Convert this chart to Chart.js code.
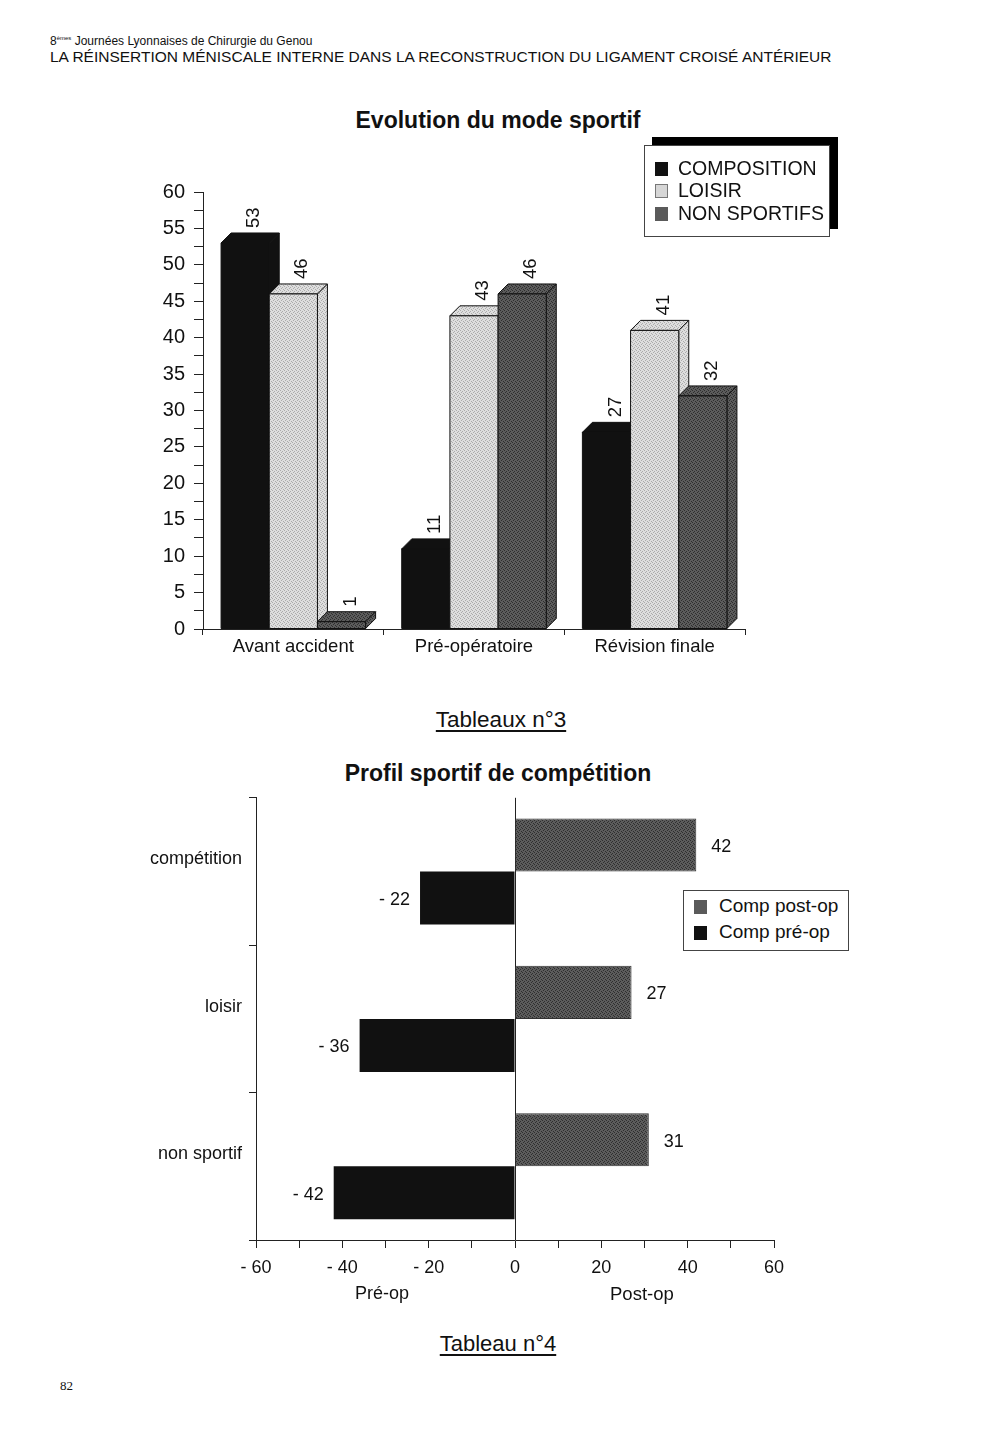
<!DOCTYPE html>
<html>
<head>
<meta charset="utf-8">
<script src="https://cdn.jsdelivr.net/npm/chart.js@4.4.0/dist/chart.umd.min.js"></script>
<style>
  body { margin: 0; background: #fff; font-family: "Liberation Sans", Arial, sans-serif; color: #111; }
  #page { position: relative; width: 1000px; height: 1431px; overflow: hidden; }
  .abs { position: absolute; white-space: nowrap; }
  canvas { position: absolute; }
  .title { font-weight: bold; font-size: 23px; }
  .legend { position: absolute; background: #fff; border: 1px solid #444; }
  .sw { position: absolute; width: 13px; height: 14px; }
  .cap { text-decoration: underline; text-underline-offset: 3px; }
</style>
</head>
<body>
<div id="page">
  <div class="abs" style="left:50px;top:34px;font-size:12px;">8<sup style="font-size:6px">èmes</sup> Journées Lyonnaises de Chirurgie du Genou</div>
  <div class="abs" style="left:50px;top:48px;font-size:15.5px;">LA RÉINSERTION MÉNISCALE INTERNE DANS LA RECONSTRUCTION DU LIGAMENT CROISÉ ANTÉRIEUR</div>

  <div class="abs title" style="left:0;width:996px;text-align:center;top:107px;">Evolution du mode sportif</div>
  <canvas id="chartSport" width="640" height="500" style="left:140px;top:170px;"></canvas>
  <div class="legend" style="left:644px;top:145px;width:184px;height:90px;box-shadow:8px -8px 0 #000;font-size:19.5px;">
    <span class="sw" style="left:10px;top:16px;background:#111;"></span>
    <span class="abs" style="left:33px;top:11px;">COMPOSITION</span>
    <span class="sw" style="left:10px;top:38px;background:#d6d6d6;border:1px solid #777;width:11px;height:12px;"></span>
    <span class="abs" style="left:33px;top:33px;">LOISIR</span>
    <span class="sw" style="left:10px;top:61px;background:#5a5a5a;"></span>
    <span class="abs" style="left:33px;top:56px;">NON SPORTIFS</span>
  </div>
  <div class="abs cap" style="left:0;width:1002px;text-align:center;top:707px;font-size:22.5px;">Tableaux n°3</div>

  <div class="abs title" style="left:0;width:996px;text-align:center;top:760px;">Profil sportif de compétition</div>
  <canvas id="chartComp" width="670" height="507" style="left:130px;top:780px;"></canvas>
  <div class="legend" style="left:683px;top:890px;width:164px;height:59px;font-size:19px;">
    <span class="sw" style="left:10px;top:9px;background:#5a5a5a;"></span>
    <span class="abs" style="left:35px;top:4px;">Comp post-op</span>
    <span class="sw" style="left:10px;top:35px;background:#111;"></span>
    <span class="abs" style="left:35px;top:30px;">Comp pré-op</span>
  </div>
  <div class="abs" style="left:355px;top:1283px;font-size:18px;">Pré-op</div>
  <div class="abs" style="left:610px;top:1283px;font-size:18.5px;">Post-op</div>
  <div class="abs cap" style="left:0;width:996px;text-align:center;top:1331px;font-size:22px;">Tableau n°4</div>

  <div class="abs" style="left:60px;top:1378px;font-size:13px;font-family:'Liberation Serif',serif;">82</div>
</div>

<script>
// --- data: Tableau n°3 ---
const phases = ['Avant accident', 'Pré-opératoire', 'Révision finale'];
const composition = [53, 11, 27];
const loisir = [46, 43, 41];
const nonSportifs = [1, 46, 32];

// --- data: Tableau n°4 ---
const profils = ['compétition', 'loisir', 'non sportif'];
const compPostOp = [42, 27, 31];
const compPreOp = [-22, -36, -42];

const FONT = '"Liberation Sans", Arial, sans-serif';

function stipple(base, dot) {
  const c = document.createElement('canvas');
  c.width = 4; c.height = 4;
  const g = c.getContext('2d');
  g.fillStyle = base; g.fillRect(0, 0, 4, 4);
  g.fillStyle = dot;
  g.fillRect(0, 0, 1, 1); g.fillRect(2, 1, 1, 1); g.fillRect(1, 2, 1, 1); g.fillRect(3, 3, 1, 1);
  return c;
}
const lightPat = document.createElement('canvas').getContext('2d').createPattern(stipple('#dedede', '#ababab'), 'repeat');
const darkPat = document.createElement('canvas').getContext('2d').createPattern(stipple('#5c5c5c', '#2e2e2e'), 'repeat');

// 3D bars for the first chart: fronts come from the bar elements, depth faces added
const DX = 10, DY = 10;
const bars3d = {
  id: 'bars3d',
  afterDatasetsDraw(chart) {
    const ctx = chart.ctx;
    const faces = ['#111', lightPat, darkPat];
    function poly(pts, fill) {
      ctx.beginPath();
      ctx.moveTo(pts[0][0], pts[0][1]);
      pts.slice(1).forEach(p => ctx.lineTo(p[0], p[1]));
      ctx.closePath();
      ctx.fillStyle = fill; ctx.fill();
      ctx.strokeStyle = '#111'; ctx.lineWidth = 1; ctx.stroke();
    }
    ctx.save();
    chart.data.labels.forEach((lab, i) => {
      chart.data.datasets.forEach((ds, d) => {
        const el = chart.getDatasetMeta(d).data[i];
        const l = el.x - el.width / 2, r = el.x + el.width / 2, t = el.y, b = el.base;
        poly([[r, b], [r + DX, b - DY], [r + DX, t - DY], [r, t]], faces[d]);
        poly([[l, t], [l + DX, t - DY], [r + DX, t - DY], [r, t]], faces[d]);
        poly([[l, t], [r, t], [r, b], [l, b]], faces[d]);
      });
    });
    // values, written upwards above each bar
    ctx.fillStyle = '#111';
    ctx.font = '18.5px ' + FONT;
    ctx.textAlign = 'left';
    ctx.textBaseline = 'middle';
    chart.data.datasets.forEach((ds, d) => {
      chart.getDatasetMeta(d).data.forEach((el, i) => {
        ctx.save();
        ctx.translate(el.x + DX / 2 + 4, el.y - DY - 5);
        ctx.rotate(-Math.PI / 2);
        ctx.fillText(String(ds.data[i]), 0, 0);
        ctx.restore();
      });
    });
    ctx.restore();
  }
};

new Chart(document.getElementById('chartSport'), {
  type: 'bar',
  data: {
    labels: phases,
    datasets: [
      { label: 'COMPOSITION', data: composition, backgroundColor: 'transparent' },
      { label: 'LOISIR', data: loisir, backgroundColor: 'transparent' },
      { label: 'NON SPORTIFS', data: nonSportifs, backgroundColor: 'transparent' }
    ]
  },
  options: {
    responsive: false,
    animation: false,
    devicePixelRatio: 1,
    layout: { padding: { top: 22, right: 35, bottom: 0, left: 0 } },
    datasets: { bar: { categoryPercentage: 0.8, barPercentage: 1, borderWidth: 0 } },
    plugins: { legend: { display: false }, tooltip: { enabled: false } },
    scales: {
      x: {
        afterFit: s => { s.height = 41; },
        border: { color: '#222', width: 1 },
        grid: { drawOnChartArea: false, tickLength: 6, color: '#222' },
        ticks: { color: '#111', font: { family: FONT, size: 18.5 }, padding: 1, maxRotation: 0 }
      },
      y: {
        min: 0, max: 60,
        afterFit: s => { s.width = 63; },
        border: { color: '#222', width: 1 },
        grid: { drawOnChartArea: false, tickLength: 9, color: '#222' },
        ticks: {
          stepSize: 2.5, autoSkip: false, color: '#111', padding: 9,
          font: { family: FONT, size: 20 },
          callback: v => (v % 5 === 0 ? String(v) : '')
        }
      }
    }
  },
  plugins: [bars3d]
});

// value labels for the horizontal chart
const hLabels = {
  id: 'hLabels',
  afterDatasetsDraw(chart) {
    const ctx = chart.ctx;
    ctx.save();
    ctx.fillStyle = '#111';
    ctx.font = '18px ' + FONT;
    ctx.textBaseline = 'middle';
    chart.data.datasets.forEach((ds, d) => {
      chart.getDatasetMeta(d).data.forEach((el, i) => {
        const v = ds.data[i];
        if (v >= 0) {
          ctx.textAlign = 'left';
          ctx.fillText(String(v), el.x + 15, el.y + 2);
        } else {
          ctx.textAlign = 'right';
          ctx.fillText('- ' + Math.abs(v), el.x - 10, el.y + 2);
        }
      });
    });
    ctx.restore();
  }
};

new Chart(document.getElementById('chartComp'), {
  type: 'bar',
  data: {
    labels: profils,
    datasets: [
      { label: 'Comp post-op', data: compPostOp, backgroundColor: darkPat, borderColor: '#333', borderWidth: 1 },
      { label: 'Comp pré-op', data: compPreOp, backgroundColor: '#111', borderWidth: 0 }
    ]
  },
  options: {
    indexAxis: 'y',
    responsive: false,
    animation: false,
    devicePixelRatio: 1,
    layout: { padding: { top: 0, right: 26, bottom: 0, left: 0 } },
    datasets: { bar: { categoryPercentage: 0.72, barPercentage: 1 } },
    plugins: { legend: { display: false }, tooltip: { enabled: false } },
    scales: {
      x: {
        min: -60, max: 60,
        afterFit: s => { s.height = 47; },
        border: { color: '#222', width: 1 },
        grid: {
          drawOnChartArea: true, tickLength: 8, tickColor: '#222',
          color: c => (c.tick && c.tick.value === 0 ? '#222' : 'transparent')
        },
        ticks: {
          stepSize: 10, autoSkip: false, color: '#111', padding: 9, maxRotation: 0,
          font: { family: FONT, size: 18 },
          callback: v => (v % 20 !== 0 ? '' : v < 0 ? '- ' + Math.abs(v) : String(v))
        }
      },
      y: {
        afterFit: s => { s.width = 126; },
        border: { color: '#222', width: 1 },
        grid: { drawOnChartArea: false, tickLength: 7, color: '#222' },
        ticks: { color: '#111', padding: 7, labelOffset: -12, font: { family: FONT, size: 18 } }
      }
    }
  },
  plugins: [hLabels]
});
</script>
</body>
</html>
